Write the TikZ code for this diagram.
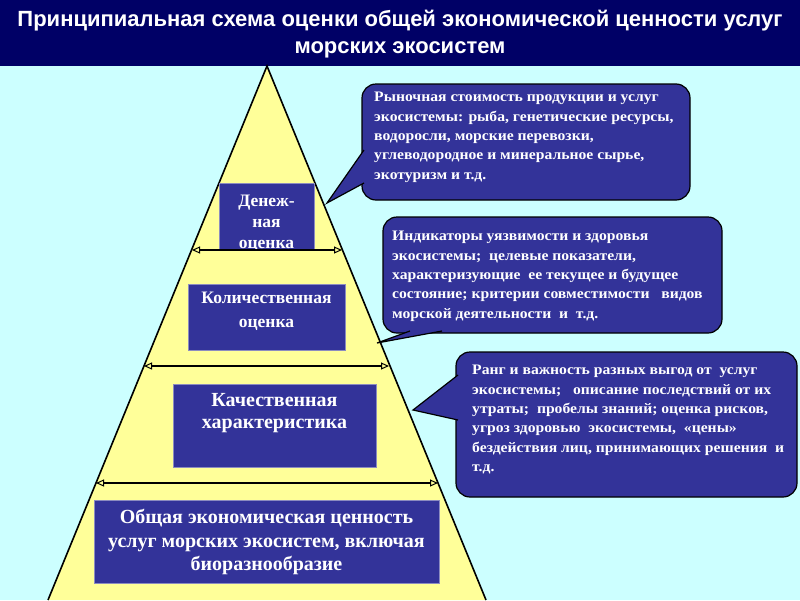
\documentclass[tikz,border=0pt]{standalone}
\usepackage{fontspec}
\setmainfont{Liberation Serif}
\newfontfamily\titlefont{Liberation Sans}
\newfontfamily\callfont[FakeStretch=1.08]{Liberation Serif}
\usetikzlibrary{arrows.meta}
\definecolor{bg}{HTML}{CCFFFF}
\definecolor{titlebar}{HTML}{000066}
\definecolor{pyr}{HTML}{FFFF99}
\definecolor{boxblue}{HTML}{333399}
\definecolor{boxedge}{HTML}{8C8CC0}
\begin{document}
\begin{tikzpicture}[x=1pt,y=-1pt,
  lvlbox/.style={draw=boxedge, line width=0.9pt, fill=boxblue, inner sep=0pt},
  lvltext/.style={text=white, align=center, inner sep=0pt, font=\bfseries\fontsize{17.5}{21}\selectfont},
  lvlbig/.style={lvltext, font=\bfseries\fontsize{20}{23.5}\selectfont},
  callbox/.style={draw=black, line width=1.2pt, fill=boxblue, rounded corners=14pt, inner sep=0pt},
  calltext/.style={text=white, align=left, inner sep=0pt, anchor=north west, font=\callfont\bfseries\fontsize{14.5}{19.4}\selectfont},
  pointer/.style={fill=boxblue, draw=black, line width=1.2pt, line join=miter},
  dbl/.style={line width=1.4pt, {Triangle[length=8pt,width=7pt,fill=pyr,line width=1pt]}-{Triangle[length=8pt,width=7pt,fill=pyr,line width=1pt]}}
]
\useasboundingbox (0,0) rectangle (800,600);
\fill[bg] (0,0) rectangle (800,600);
% title
\fill[titlebar] (0,0) rectangle (800,66);
\node[text=white, align=center, inner sep=0pt, font=\titlefont\bfseries\fontsize{22}{27}\selectfont] (title) at (400,34)
  {Принципиальная схема оценки общей экономической ценности услуг\\морских экосистем};
% pyramid
\coordinate (apex) at (267,66);
\coordinate (pbl) at (48,600);
\coordinate (pbr) at (486,600);
\fill[pyr] (pbl) -- (apex) -- (pbr) -- cycle;
\draw[line width=1.6pt, line join=miter] (pbl) -- (apex) -- (pbr);
% level boxes
\node[lvlbox, minimum width=95pt, minimum height=67pt] (b1) at (266.5,216.5) {};
\node[lvltext] (t1) at (266.5,223) {Денеж-\\ная\\оценка};
\node[lvlbox, minimum width=157pt, minimum height=66pt] (b2) at (266.5,317) {};
\node[lvltext, font=\bfseries\fontsize{17.5}{24}\selectfont] (t2) at (266.5,311) {Количественная\\оценка};
\node[lvlbox, minimum width=203pt, minimum height=83pt] (b3) at (274.5,425.5) {};
\node[lvlbig, font=\bfseries\fontsize{20}{22.5}\selectfont] (t3) at (274.5,413) {Качественная\\характеристика};
\node[lvlbox, minimum width=345pt, minimum height=83pt] (b4) at (266.5,541.5) {};
\node[lvlbig] (t4) at (266.5,542) {Общая экономическая ценность\\услуг морских экосистем, включая\\биоразнообразие};
% double arrows
\coordinate (a1l) at (192,250); \coordinate (a1r) at (342,250);
\coordinate (a2l) at (144,366); \coordinate (a2r) at (389,366);
\coordinate (a3l) at (96,483);  \coordinate (a3r) at (438,483);
\draw[dbl] (a1l) -- (a1r);
\draw[dbl] (a2l) -- (a2r);
\draw[dbl] (a3l) -- (a3r);
% callout 1
\node[callbox, minimum width=328pt, minimum height=116pt] (c1) at (526,142) {};
\coordinate (p1a) at (364,150); \coordinate (p1t) at (327,203); \coordinate (p1b) at (364,183);
\path[pointer] (p1a) -- (p1t) -- (p1b);
\node[calltext] (ct1) at (374,92) {Рыночная стоимость продукции и услуг\\экосистемы: рыба, генетические ресурсы,\\водоросли, морские перевозки,\\углеводородное и минеральное сырье,\\экотуризм и т.д.};
% callout 2
\node[callbox, minimum width=339pt, minimum height=116pt] (c2) at (552.5,275) {};
\coordinate (p2a) at (410,331); \coordinate (p2t) at (377,343); \coordinate (p2b) at (442,331);
\path[pointer] (p2a) -- (p2t) -- (p2b);
\node[calltext] (ct2) at (392,231) {Индикаторы уязвимости и здоровья\\экосистемы;~ целевые показатели,\\характеризующие~ ее текущее и будущее\\состояние; критерии совместимости~~ видов\\морской деятельности~ и~ т.д.};
% callout 3
\node[callbox, minimum width=341pt, minimum height=145pt] (c3) at (626.5,424.5) {};
\coordinate (p3a) at (458,375); \coordinate (p3t) at (413,410); \coordinate (p3b) at (458,420);
\path[pointer] (p3a) -- (p3t) -- (p3b);
\node[calltext] (ct3) at (472,365) {Ранг и важность разных выгод от~ услуг\\экосистемы;~~ описание последствий от их\\утраты;~ пробелы знаний; оценка рисков,\\угроз здоровью~ экосистемы,~ «цены»\\бездействия лиц, принимающих решения~ и\\т.д.};
\end{tikzpicture}
\end{document}
